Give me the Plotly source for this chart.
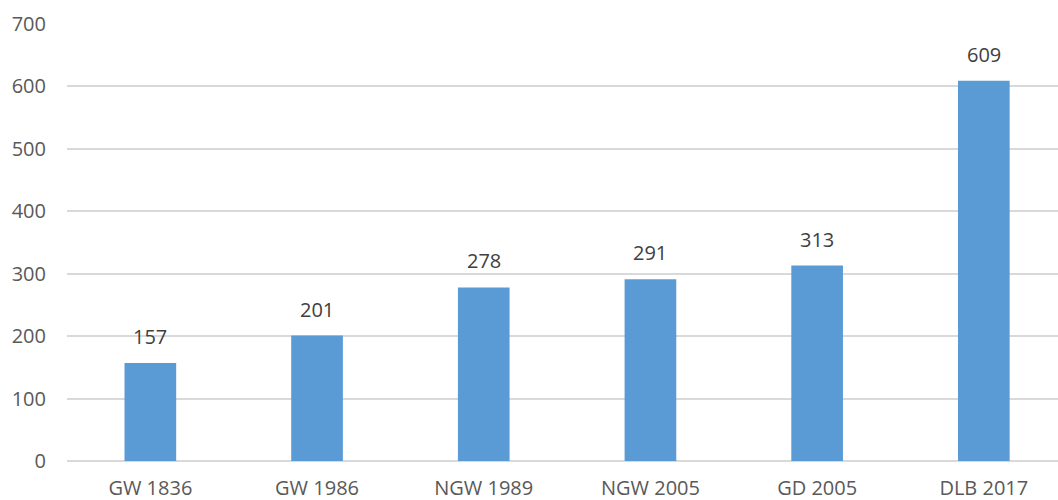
import plotly.graph_objects as go

categories = ["GW 1836", "GW 1986", "NGW 1989", "NGW 2005", "GD 2005", "DLB 2017"]
values = [157, 201, 278, 291, 313, 609]
y_ticks = [0, 100, 200, 300, 400, 500, 600, 700]

xpos = list(range(len(categories)))

fig = go.Figure()
fig.add_trace(go.Bar(
    x=xpos,
    y=values,
    width=0.31,
    marker=dict(color="#5B9BD5", line=dict(width=0)),
))

for xi, v in zip(xpos, values):
    fig.add_annotation(
        x=xi, y=v, text=str(v), showarrow=False,
        xanchor="center", yanchor="bottom", yshift=11,
        font=dict(size=20, color="#404040", family="Open Sans"),
    )

fig.update_layout(
    width=1058, height=500,
    margin=dict(l=67, r=0, t=24, b=39),
    plot_bgcolor="white", paper_bgcolor="white",
    showlegend=False,
    font=dict(family="Open Sans", size=20, color="#595959"),
)
fig.update_xaxes(
    tickmode="array",
    tickvals=xpos,
    ticktext=categories,
    range=[-0.5, 5.445],
    showgrid=False, zeroline=False, showline=False,
    ticks="", ticklabelstandoff=13,
    tickfont=dict(size=20, color="#595959"),
)
fig.update_yaxes(
    range=[0, 700],
    tickvals=y_ticks,
    showgrid=True, gridcolor="#D9D9D9", gridwidth=2,
    zeroline=True, zerolinecolor="#D9D9D9", zerolinewidth=2,
    showline=False, ticks="", ticklabelstandoff=20,
    tickfont=dict(size=20, color="#595959"),
)

fig.write_html("out.html")
